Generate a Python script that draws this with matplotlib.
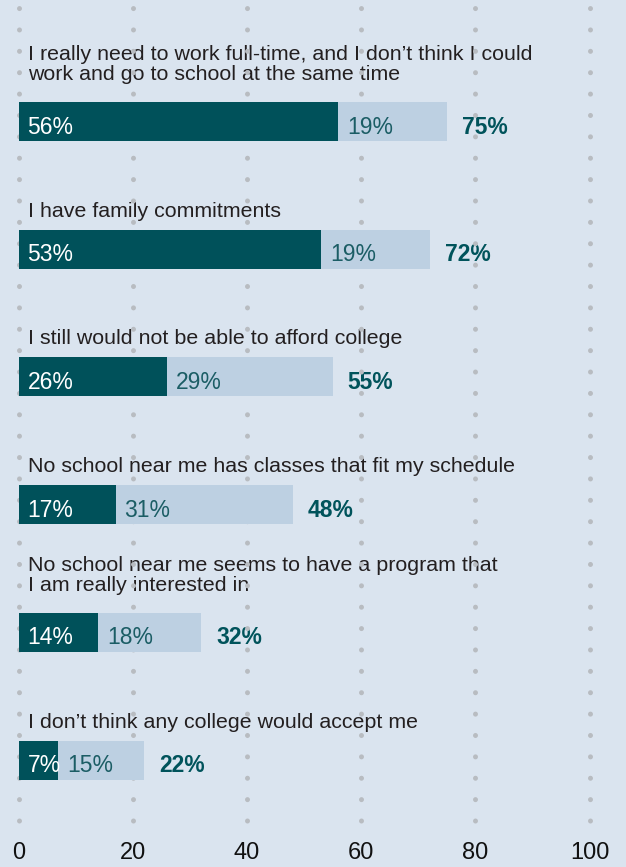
import matplotlib
matplotlib.use("Agg")
import matplotlib.pyplot as plt

plt.rcParams['font.family'] = ['Liberation Sans', 'DejaVu Sans']

categories = [
    "I really need to work full-time, and I don\u2019t think I could\nwork and go to school at the same time",
    "I have family commitments",
    "I still would not be able to afford college",
    "No school near me has classes that fit my schedule",
    "No school near me seems to have a program that\nI am really interested in",
    "I don\u2019t think any college would accept me",
]
major_reason = [56, 53, 26, 17, 14, 7]
minor_reason = [19, 19, 29, 31, 18, 15]
totals = [75, 72, 55, 48, 32, 22]
xticks = [0, 20, 40, 60, 80, 100]

BG = "#DAE4EF"
DARK = "#00515A"
LIGHT = "#BDD0E2"
LIGHT_TXT = "#1B5D65"
TOTAL_TXT = "#00535B"
DOT = "#B8BCC1"
TXT = "#231F20"

W, H = 626, 867
fig = plt.figure(figsize=(W / 100, H / 100), dpi=100, facecolor=BG)
ax_bottom_px = 832
ax = fig.add_axes([18.5 / W, (H - ax_bottom_px) / H, 571 / W, ax_bottom_px / H])
ax.set_facecolor(BG)

row_px = 127.7
first_px = 121.5
y_top = -first_px / row_px
y_bot = (ax_bottom_px - first_px) / row_px
ax.set_xlim(0, 100)
ax.set_ylim(y_bot, y_top)

# dotted vertical grid (above labels, below bars)
lw_pt = 3.6
period_pt = 21.33 * 0.72
offset_pt = (21.33 - 8) * 0.72
for xv in xticks:
    ax.plot([xv, xv], [y_top, y_bot], color=DOT, lw=lw_pt,
            linestyle=(offset_pt / lw_pt, (0.01, period_pt / lw_pt)),
            dash_capstyle='round', zorder=1.5, clip_on=False)

bh = 39 / row_px
ypos = list(range(len(categories)))
ax.barh(ypos, major_reason, height=bh, color=DARK, zorder=2)
ax.barh(ypos, minor_reason, left=major_reason, height=bh, color=LIGHT, zorder=2)

val_fs = 16.5
for i, (cat, a, b, t) in enumerate(zip(categories, major_reason, minor_reason, totals)):
    lines = cat.split("\n")
    n = len(lines)
    gap = 13 if n == 1 else 22
    for j, line in enumerate(lines):
        off = gap + (n - 1 - j) * 20
        ax.annotate(line, xy=(0, i - bh / 2), xytext=(10, off),
                    textcoords='offset pixels', ha='left', va='baseline',
                    fontsize=15.4, color=TXT, zorder=1)
    ax.annotate(f"{a}%", xy=(0, i), xytext=(9, -12), textcoords='offset pixels',
                ha='left', va='baseline', fontsize=val_fs, color='white', zorder=3)
    ax.annotate(f"{b}%", xy=(a, i), xytext=(9, -12), textcoords='offset pixels',
                ha='left', va='baseline', fontsize=val_fs, color=LIGHT_TXT, zorder=3)
    ax.annotate(f"{t}%", xy=(a + b, i), xytext=(15, -12), textcoords='offset pixels',
                ha='left', va='baseline', fontsize=val_fs, color=TOTAL_TXT,
                fontweight='bold', zorder=1)

ax.set_xticks(xticks)
ax.set_xticklabels([str(x) for x in xticks])
ax.tick_params(axis='x', length=0, pad=7, labelsize=17, labelcolor='#111111')
ax.set_yticks([])
for s in ax.spines.values():
    s.set_visible(False)

fig.savefig("out.png", dpi=100, facecolor=BG)
